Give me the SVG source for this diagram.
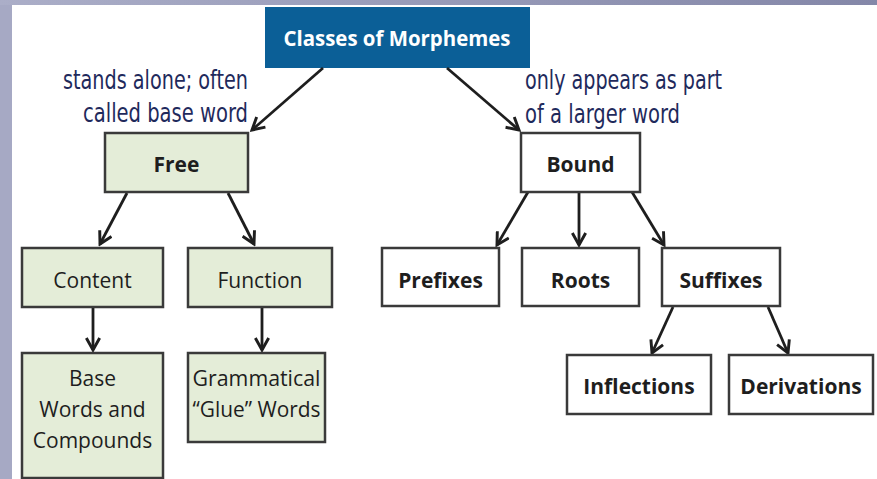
<svg xmlns="http://www.w3.org/2000/svg" width="877" height="479" viewBox="0 0 877 479">
<defs>
<linearGradient id="topbar" x1="0" y1="0" x2="1" y2="0">
<stop offset="0" stop-color="#abaec8"/>
<stop offset="1" stop-color="#8487a8"/>
</linearGradient>
<marker id="arr" viewBox="0 0 12 12" markerWidth="16" markerHeight="16" refX="10" refY="6" orient="auto" markerUnits="userSpaceOnUse">
<path d="M1,1 L10,6 L1,11" fill="none" stroke="#1e1e1e" stroke-width="2.2" stroke-linejoin="miter"/>
</marker>
</defs>
<style>
.box{stroke:#3a3a3a;stroke-width:2.5}
.green{fill:#e4edd8}
.white{fill:#ffffff}
.t{font-family:"Open Sans","Noto Sans","DejaVu Sans",sans-serif;font-size:21px;fill:#1e1e1e;text-anchor:middle}
.b{font-weight:bold}
.note{font-family:"DejaVu Sans Condensed","DejaVu Sans",sans-serif;font-stretch:condensed;font-size:27px;fill:#1f2a5c}
.conn line{stroke:#1e1e1e;stroke-width:2.8;marker-end:url(#arr)}
</style>
<rect x="0" y="0" width="877" height="479" fill="#a6a9c4"/>
<rect x="0" y="0" width="877" height="5" fill="url(#topbar)"/>
<rect x="12" y="5" width="865" height="474" fill="#ffffff"/>

<g id="title">
<rect x="265" y="7" width="265" height="61" fill="#0b5f97"/>
<text x="397" y="46" class="t b" style="fill:#ffffff" textLength="227" lengthAdjust="spacingAndGlyphs">Classes of Morphemes</text>
</g>

<g id="note-free">
<text class="note" x="248" y="89" text-anchor="end" textLength="185" lengthAdjust="spacingAndGlyphs">stands alone; often</text>
<text class="note" x="248" y="122" text-anchor="end" textLength="165" lengthAdjust="spacingAndGlyphs">called base word</text>
</g>
<g id="note-bound">
<text class="note" x="525" y="89" textLength="197" lengthAdjust="spacingAndGlyphs">only appears as part</text>
<text class="note" x="525" y="123" textLength="155" lengthAdjust="spacingAndGlyphs">of a larger word</text>
</g>

<g class="conn" id="connectors">
<line x1="323" y1="68" x2="252" y2="130"/>
<line x1="447" y1="68" x2="519" y2="130"/>
<line x1="127" y1="193" x2="100" y2="244"/>
<line x1="228" y1="193" x2="254" y2="244"/>
<line x1="93" y1="307" x2="93" y2="350"/>
<line x1="262" y1="307" x2="262" y2="350"/>
<line x1="528" y1="192" x2="497" y2="245"/>
<line x1="579" y1="192" x2="579" y2="245"/>
<line x1="632" y1="192" x2="664" y2="245"/>
<line x1="673" y1="307" x2="652" y2="353"/>
<line x1="768" y1="307" x2="788" y2="353"/>
</g>

<g id="free">
<rect class="box green" x="105" y="133" width="143" height="59"/>
<text class="t b" x="176.5" y="172">Free</text>
</g>
<g id="bound">
<rect class="box white" x="521" y="133" width="119" height="59"/>
<text class="t b" x="580.5" y="172">Bound</text>
</g>
<g id="content">
<rect class="box green" x="22" y="248" width="141" height="59"/>
<text class="t" x="92.5" y="288">Content</text>
</g>
<g id="function">
<rect class="box green" x="188" y="248" width="144" height="59"/>
<text class="t" x="260" y="288">Function</text>
</g>
<g id="base">
<rect class="box green" x="22" y="353" width="141" height="125"/>
<text class="t" x="92.5" y="386">Base</text>
<text class="t" x="92.5" y="417">Words and</text>
<text class="t" x="92.5" y="448">Compounds</text>
</g>
<g id="grammatical">
<rect class="box green" x="188" y="353" width="137" height="89"/>
<text class="t" x="256.5" y="386" textLength="128" lengthAdjust="spacingAndGlyphs">Grammatical</text>
<text class="t" x="256.5" y="417" textLength="128" lengthAdjust="spacingAndGlyphs">“Glue” Words</text>
</g>
<g id="prefixes">
<rect class="box white" x="382" y="248" width="117" height="58"/>
<text class="t b" x="440.5" y="288">Prefixes</text>
</g>
<g id="roots">
<rect class="box white" x="522" y="248" width="117" height="58"/>
<text class="t b" x="580.5" y="288">Roots</text>
</g>
<g id="suffixes">
<rect class="box white" x="662" y="248" width="118" height="58"/>
<text class="t b" x="721" y="288">Suffixes</text>
</g>
<g id="inflections">
<rect class="box white" x="567" y="355" width="144" height="59"/>
<text class="t b" x="639" y="394">Inflections</text>
</g>
<g id="derivations">
<rect class="box white" x="729" y="355" width="144" height="59"/>
<text class="t b" x="801" y="394">Derivations</text>
</g>
</svg>
